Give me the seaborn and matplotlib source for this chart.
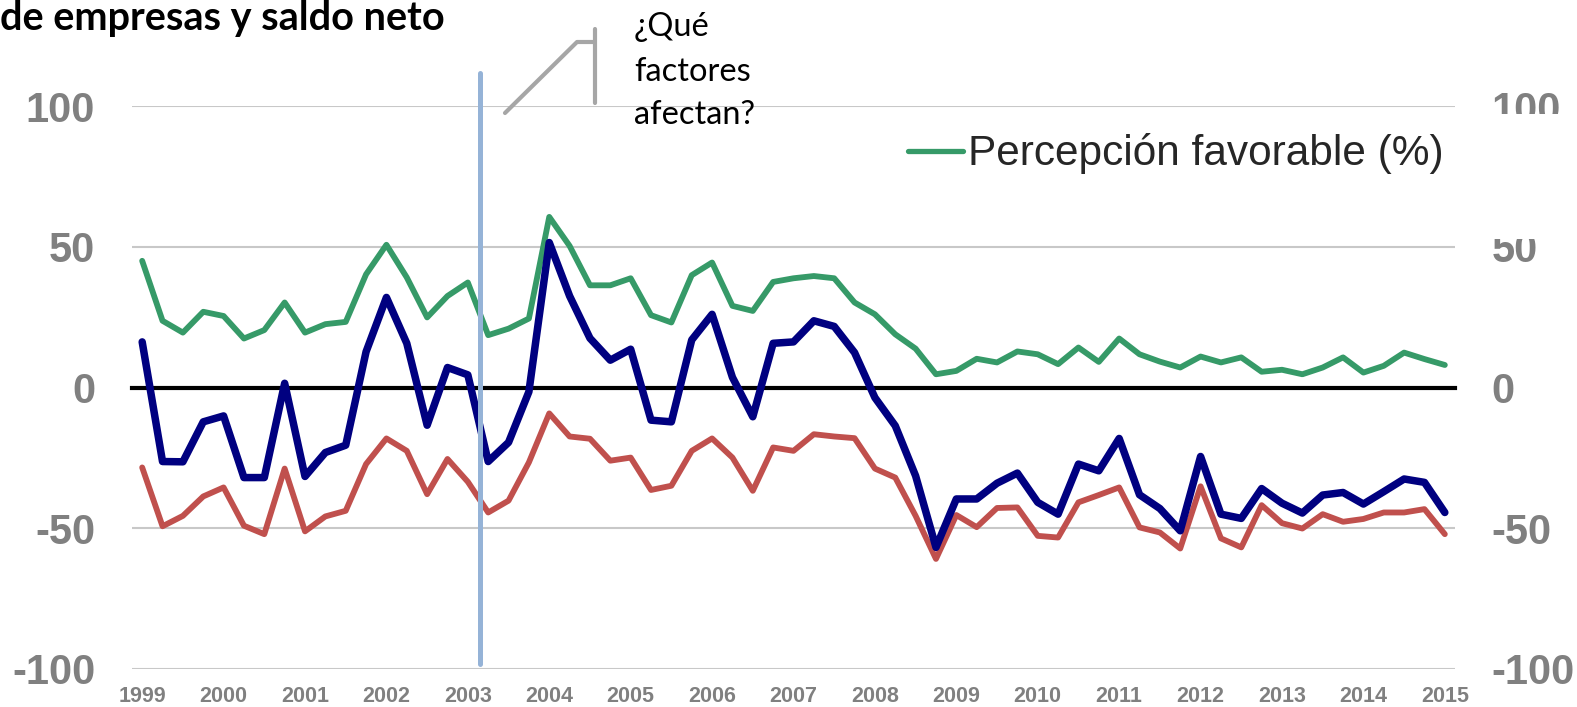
import numpy as np
import pandas as pd
import matplotlib
matplotlib.use("Agg")
import matplotlib.pyplot as plt
import seaborn as sns
from matplotlib.lines import Line2D
from matplotlib.patches import Rectangle

# ---------------- data (quarterly, 1999Q1 .. 2015Q1) ----------------
years = [str(y) for y in range(1999, 2016)]
favorable = [45.0, 23.7, 19.5, 26.9, 25.4, 17.4, 20.4, 30.2, 19.5, 22.5, 23.3, 40.2, 50.7,
             39.1, 24.9, 32.5, 37.3, 18.6, 20.9, 24.5, 60.6, 50.3, 36.3, 36.3, 38.8, 25.7,
             23.1, 39.9, 44.4, 29.0, 27.2, 37.5, 38.8, 39.6, 38.8, 30.2, 26.0, 18.9, 13.8,
             4.7, 5.9, 10.2, 8.9, 12.8, 11.8, 8.3, 14.2, 9.1, 17.4, 11.8, 9.2, 7.1, 11.0,
             8.9, 10.7, 5.6, 6.3, 4.7, 7.1, 10.7, 5.3, 7.7, 12.4, 10.1, 8.0]
saldo = [16.2, -26.3, -26.4, -12.2, -10.1, -32.0, -32.0, 1.5, -31.6, -23.1, -20.5, 12.7, 32.0,
         15.7, -13.4, 7.1, 4.5, -26.3, -19.5, -1.5, 51.5, 32.5, 17.5, 9.7, 13.6, -11.6,
         -12.2, 16.9, 26.0, 3.6, -10.4, 15.7, 16.2, 23.7, 21.7, 12.4, -3.6, -13.6, -31.4,
         -56.8, -39.6, -39.6, -34.0, -30.4, -40.8, -45.0, -27.2, -29.6, -18.1, -38.1, -43.0,
         -50.9, -24.5, -45.0, -46.5, -35.9, -41.1, -44.6, -38.2, -37.3, -41.4, -37.0, -32.5,
         -33.7, -44.4]
desfavorable = [-28.4, -49.3, -45.6, -38.7, -35.5, -49.1, -52.1, -28.8, -51.1, -45.8, -43.8,
                -27.2, -18.1, -22.5, -37.9, -25.4, -33.5, -44.4, -40.2, -26.6, -9.2, -17.4,
                -18.2, -26.0, -24.9, -36.4, -34.9, -22.5, -18.1, -24.9, -36.7, -21.3, -22.5,
                -16.6, -17.4, -18.0, -28.8, -32.0, -45.6, -60.9, -45.3, -49.6, -42.8, -42.6,
                -52.7, -53.3, -40.8, -38.2, -35.5, -49.7, -51.5, -57.2, -35.1, -53.6, -56.8,
                -41.8, -48.2, -50.1, -45.0, -47.7, -46.7, -44.4, -44.4, -43.2, -52.1]
y_ticks = [-100, -50, 0, 50, 100]
y_tick_labels = ["-100", "-50", "0", "50", "100"]
legend_label = "Percepción favorable (%)"
title_text = "de empresas y saldo neto"
note_lines = ["¿Qué", "factores", "afectan?"]

idx = np.arange(len(favorable))
df = pd.DataFrame({"idx": idx, "favorable": favorable, "saldo": saldo,
                   "desfavorable": desfavorable})

# ---------------- style ----------------
sns.set_style("white")
plt.rcParams["font.family"] = ["Liberation Sans", "DejaVu Sans"]

W, H = 1577, 707
def fx(x):
    return x / W
def fy(y):
    return 1 - y / H

GREEN = "#369A68"
NAVY = "#000080"
RED = "#C0504D"
GRAY = "#808080"

fig = plt.figure(figsize=(W / 100, H / 100), dpi=100)
ax = fig.add_axes([132 / W, 38 / H, 1323 / W, 563 / H])

kw = dict(solid_capstyle="round", solid_joinstyle="round")
sns.lineplot(data=df, x="idx", y="desfavorable", color=RED, linewidth=4.2, ax=ax,
             label="_desfavorable", **kw)
sns.lineplot(data=df, x="idx", y="favorable", color=GREEN, linewidth=4.2, ax=ax,
             label=legend_label, **kw)
sns.lineplot(data=df, x="idx", y="saldo", color=NAVY, linewidth=5.4, ax=ax,
             label="_saldo", **kw)
if ax.get_legend() is not None:
    ax.get_legend().remove()

ax.set_xlim(-0.5, len(favorable) - 0.5)
ax.set_ylim(-100, 100)
ax.set_xlabel("")
ax.set_ylabel("")

# grid
ax.set_yticks(y_ticks)
ax.set_yticklabels(y_tick_labels, fontsize=30, fontweight="bold", color=GRAY)
ax.yaxis.grid(True, color="#C8C8C8", linewidth=1.5)
ax.xaxis.grid(False)
ax.tick_params(axis="y", length=0, pad=26.5, labelleft=True, labelright=True)

# zero axis with tick marks
for s in ["top", "left", "right"]:
    ax.spines[s].set_visible(False)
ax.spines["bottom"].set_position(("data", 0))
ax.spines["bottom"].set_color("black")
ax.spines["bottom"].set_linewidth(3)
ax.spines["bottom"].set_zorder(1.5)
ax.set_xticks(np.arange(-0.5, len(favorable), 4))
ax.set_xticklabels([])
ax.tick_params(axis="x", direction="out", length=5, width=3, color="black")

# year labels
for k, yr in enumerate(years):
    ax.text(4 * k, -0.048, yr, transform=ax.get_xaxis_transform(), ha="center",
            va="center", fontsize=15.5, fontweight="bold", color=GRAY)

# white box (legend area) that hides part of the right-hand labels
fig.patches.append(Rectangle((fx(880), fy(239)), fx(1577) - fx(880), fy(114) - fy(239),
                             transform=fig.transFigure, facecolor="white",
                             edgecolor="none", zorder=2))

leg_handle = Line2D([], [], color=GREEN, linewidth=3.8, solid_capstyle="round")
fig.legend([leg_handle], [legend_label], loc="center left",
           bbox_to_anchor=(fx(908), fy(154)), frameon=False, borderpad=0,
           borderaxespad=0, handlelength=1.3, handletextpad=0.12, fontsize=30.5)

# title
fig.text(0, fy(30), title_text, ha="left", va="baseline", fontsize=28.5,
         fontweight="bold", color="black", family=["Lato", "DejaVu Sans"])

# vertical marker line
fig.add_artist(Line2D([fx(480), fx(480)], [fy(73), fy(664)], transform=fig.transFigure,
                      color="#95B3D7", linewidth=3.6, zorder=3))

# callout connector
fig.add_artist(Line2D([fx(505), fx(577), fx(595)], [fy(113), fy(42), fy(42)],
                      transform=fig.transFigure, color="#A6A6A6", linewidth=3,
                      zorder=3))
fig.add_artist(Line2D([fx(595), fx(595)], [fy(29), fy(103)], transform=fig.transFigure,
                      color="#A6A6A6", linewidth=3, zorder=3))

# callout text
for line, base in zip(note_lines, [36, 81, 124]):
    fig.text(fx(634), fy(base), line, ha="left", va="baseline", fontsize=23.5,
             color="black", family=["Lato", "DejaVu Sans"], zorder=4)

fig.savefig("out.png", dpi=100, facecolor="white")
